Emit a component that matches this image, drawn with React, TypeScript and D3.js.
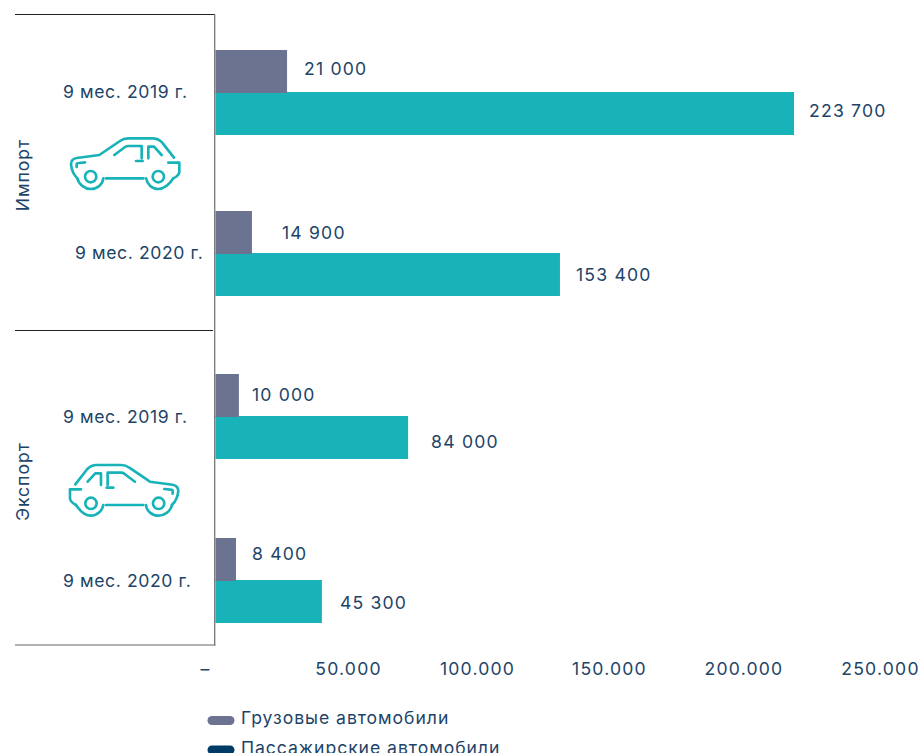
import React from "react";
import * as d3 from "d3";

const periods = ["9 мес. 2019 г.", "9 мес. 2020 г."];
const flows = ["Импорт", "Экспорт"];
const seriesNames = ["Грузовые автомобили", "Пассажирские автомобили"];
const seriesKeys = ["truck", "passenger"];
// Bar lengths as drawn, read against the axis
const truckImport = [26900, 13700];
const passengerImport = [217500, 129500];
const truckExport = [8800, 7700];
const passengerExport = [72400, 40000];
// Printed labels (as printed, they differ from the drawn lengths)
const truckImportLabels = ["21 000", "14 900"];
const passengerImportLabels = ["223 700", "153 400"];
const truckExportLabels = ["10 000", "8 400"];
const passengerExportLabels = ["84 000", "45 300"];
const tickValues = [0, 50000, 100000, 150000, 200000, 250000];
const tickLabels = ["–", "50.000", "100.000", "150.000", "200.000", "250.000"];

const FONT = "Inter, 'Open Sans', sans-serif";
const TEXT = "#1d4468";
const GREY = "#6b7391";
const TEAL = "#18b3b9";
const NAVY = "#003a66";

// layout nudges
const tickNudge = [-10, 0, -4, -5, -3.5, 0];
const nudges = [
  [[17, 15], [30, 16]],
  [[13, 23], [16, 18]],
];
const labelDy = [
  [[-2.5, -2.5], [0.5, 0.5]],
  [[-0.5, 4.5], [-5.5, 1.5]],
];
const categoryX = [
  [63, 75],
  [63, 63],
];
const categoryY = [
  [92, 253],
  [417, 581],
];
const panelRanges: [number, number][] = [
  [50, 211],
  [374, 538],
];

const x = d3.scaleLinear().domain([0, 250000]).range([215.5, 880.5]);
const inner = d3.scaleBand<string>().domain(seriesKeys).range([0, 84]);

const panels = [
  { name: flows[0], series: [truckImport, passengerImport], labels: [truckImportLabels, passengerImportLabels] },
  { name: flows[1], series: [truckExport, passengerExport], labels: [truckExportLabels, passengerExportLabels] },
];
const colors = [GREY, TEAL];
const legendColors = [GREY, NAVY];

const carPaths = [
  "M52 160 C42 150 35 138 33 118 C33 106 38 101 50 99 L118 90 L180 48 C188 42 195 40 205 40 L278 40 C292 40 300 46 306 52 L342 98",
  "M325 113 L358 113 L358 140 C358 150 350 155 340 160",
  "M138 160 L250 160",
  "M163 90 L195 66 C198 64 200 63 205 63 L245 63 L245 100",
  "M265 100 L265 65 L282 65 L305 90",
  "M228 108 L248 108",
  "M50 126 L50 118 Q50 114 56 114 L75 112",
  "M52 160 C56 178 74 192 92 192 C112 192 128 178 130 160",
  "M258 160 C262 178 276 192 295 192 C314 192 328 178 340 160",
];

function Car({ transform }: { transform: string }) {
  return (
    <g transform={transform} fill="none" stroke={TEAL} strokeWidth={8} strokeLinecap="round" strokeLinejoin="round">
      {carPaths.map((d, i) => (
        <path key={i} d={d} />
      ))}
      <circle cx={92} cy={155} r={17} />
      <circle cx={295} cy={155} r={17} />
    </g>
  );
}

export default function App() {
  const base = { fontFamily: FONT, fontSize: 17.6, fill: TEXT } as const;
  const num = { ...base, letterSpacing: 1.2 };
  const cat = { ...base, letterSpacing: 0.6 };
  const leg = { ...base, letterSpacing: 0.95 };
  return (
    <svg
      width={922}
      height={753}
      style={{ position: "fixed", left: 0, top: 0, background: "#fff", display: "block" }}
    >
      {panels.map((p, pi) => {
        const y = d3.scalePoint<string>().domain(periods).range(panelRanges[pi]);
        return (
          <g key={p.name}>
            {periods.map((per, ci) => (
              <g key={per}>
                {[1, 0].map((si) => {
                  const k = seriesKeys[si];
                  const top = (y(per) as number) + (inner(k) as number);
                  const v = p.series[si][ci];
                  return (
                    <rect key={k} x={x(0)} y={top} width={x(v) - x(0)} height={inner.bandwidth() + 1} fill={colors[si]} />
                  );
                })}
                {[1, 0].map((si) => {
                  const k = seriesKeys[si];
                  const top = (y(per) as number) + (inner(k) as number);
                  const v = p.series[si][ci];
                  return (
                    <text
                      key={k}
                      {...num}
                      x={x(v) + nudges[pi][ci][si]}
                      y={top + 21.5 + labelDy[pi][ci][si]}
                      dy="0.36em"
                    >
                      {p.labels[si][ci]}
                    </text>
                  );
                })}
                <text {...cat} x={categoryX[pi][ci]} y={categoryY[pi][ci]} dy="0.36em">
                  {per}
                </text>
              </g>
            ))}
          </g>
        );
      })}

      <text {...leg} transform="translate(23,175) rotate(-90)" textAnchor="middle" dy="0.36em">
        {flows[0]}
      </text>
      <text {...leg} transform="translate(23,481.5) rotate(-90)" textAnchor="middle" dy="0.36em">
        {flows[1]}
      </text>

      <Car transform="translate(60,125) scale(0.3333)" />
      <Car transform="translate(189.3,451.7) scale(-0.3333,0.3333)" />

      <line x1={15} x2={215} y1={14.5} y2={14.5} stroke="#222" strokeWidth={1} />
      <line x1={15} x2={213} y1={330.5} y2={330.5} stroke="#222" strokeWidth={1} />
      <line x1={15} x2={215.5} y1={645} y2={645} stroke="#666" strokeWidth={1} />
      <line x1={214.7} x2={214.7} y1={14} y2={645.5} stroke="#777" strokeWidth={1.3} />

      {tickValues.map((t, i) => (
        <text
          key={t}
          {...num}
          x={i === 0 ? 205.5 : x(t) + tickNudge[i]}
          y={669}
          dy="0.36em"
          textAnchor="middle"
        >
          {tickLabels[i]}
        </text>
      ))}

      {seriesNames.map((s, i) => (
        <g key={s}>
          <rect x={207.5} y={716 + i * 29.5} width={27} height={9} rx={4.5} fill={legendColors[i]} />
          <text {...leg} x={241} y={724 + i * 30}>
            {s}
          </text>
        </g>
      ))}
    </svg>
  );
}
